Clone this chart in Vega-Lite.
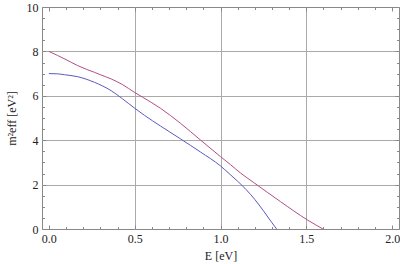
{
  "$schema": "https://vega.github.io/schema/vega-lite/v6.json",
  "width": 357,
  "height": 222,
  "autosize": {"type": "none"},
  "padding": {"left": 42, "top": 7, "right": 1, "bottom": 35},
  "background": "white",
  "config": {
    "view": {"stroke": "#888888", "strokeWidth": 1},
    "axis": {
      "labelFont": "Liberation Serif",
      "titleFont": "Liberation Serif",
      "labelFontSize": 12,
      "titleFontSize": 12,
      "titleFontWeight": "normal",
      "labelColor": "#222222",
      "titleColor": "#222222",
      "domain": false,
      "tickColor": "#888888",
      "gridColor": "#aaaaaa",
      "gridWidth": 1
    }
  },
  "data": {
    "values": [
      {"E": 0.0, "m2": 8.0, "s": "A"},
      {"E": 0.05, "m2": 7.82, "s": "A"},
      {"E": 0.1, "m2": 7.63, "s": "A"},
      {"E": 0.168, "m2": 7.36, "s": "A"},
      {"E": 0.22, "m2": 7.19, "s": "A"},
      {"E": 0.265, "m2": 7.06, "s": "A"},
      {"E": 0.3, "m2": 6.95, "s": "A"},
      {"E": 0.363, "m2": 6.76, "s": "A"},
      {"E": 0.43, "m2": 6.5, "s": "A"},
      {"E": 0.5, "m2": 6.15, "s": "A"},
      {"E": 0.55, "m2": 5.92, "s": "A"},
      {"E": 0.65, "m2": 5.44, "s": "A"},
      {"E": 0.767, "m2": 4.76, "s": "A"},
      {"E": 0.883, "m2": 4.01, "s": "A"},
      {"E": 1.0, "m2": 3.26, "s": "A"},
      {"E": 1.058, "m2": 2.9, "s": "A"},
      {"E": 1.117, "m2": 2.52, "s": "A"},
      {"E": 1.194, "m2": 2.09, "s": "A"},
      {"E": 1.35, "m2": 1.23, "s": "A"},
      {"E": 1.506, "m2": 0.41, "s": "A"},
      {"E": 1.597, "m2": 0.0, "s": "A"},
      {"E": 0.0, "m2": 7.0, "s": "B"},
      {"E": 0.05, "m2": 6.99, "s": "B"},
      {"E": 0.09, "m2": 6.95, "s": "B"},
      {"E": 0.168, "m2": 6.86, "s": "B"},
      {"E": 0.265, "m2": 6.61, "s": "B"},
      {"E": 0.363, "m2": 6.23, "s": "B"},
      {"E": 0.43, "m2": 5.86, "s": "B"},
      {"E": 0.5, "m2": 5.44, "s": "B"},
      {"E": 0.557, "m2": 5.12, "s": "B"},
      {"E": 0.65, "m2": 4.64, "s": "B"},
      {"E": 0.767, "m2": 4.06, "s": "B"},
      {"E": 0.883, "m2": 3.47, "s": "B"},
      {"E": 1.0, "m2": 2.84, "s": "B"},
      {"E": 1.05, "m2": 2.5, "s": "B"},
      {"E": 1.1, "m2": 2.15, "s": "B"},
      {"E": 1.15, "m2": 1.77, "s": "B"},
      {"E": 1.2, "m2": 1.33, "s": "B"},
      {"E": 1.25, "m2": 0.82, "s": "B"},
      {"E": 1.3, "m2": 0.28, "s": "B"},
      {"E": 1.327, "m2": 0.0, "s": "B"}
    ]
  },
  "layer": [
    {
      "mark": {"type": "line", "strokeWidth": 1, "interpolate": "monotone", "clip": true},
      "encoding": {
        "x": {
          "field": "E", "type": "quantitative",
          "scale": {"domain": [-0.04, 2.04], "nice": false, "zero": false},
          "axis": {
            "orient": "bottom",
            "title": "E [eV]",
            "values": [0,0.1,0.2,0.3,0.4,0.5,0.6,0.7,0.8,0.9,1.0,1.1,1.2,1.3,1.4,1.5,1.6,1.7,1.8,1.9,2.0],
            "labelExpr": "abs(round(datum.value*10)%5)==0 ? format(datum.value,'.1f') : ''",
            "tickSize": {"condition": {"test": "abs(round(datum.value*10)%5)==0", "value": -4}, "value": -2.5},
            "gridOpacity": {"condition": {"test": "abs(round(datum.value*10)%5)==0 && datum.value>0.01 && datum.value<1.99", "value": 1}, "value": 0},
            "labelPadding": 8,
            "titlePadding": 5,
            "labelFlush": false,
            "labelOverlap": false
          }
        },
        "y": {
          "field": "m2", "type": "quantitative",
          "scale": {"domain": [0, 10], "nice": false},
          "axis": {
            "orient": "left",
            "title": "m²eff [eV²]",
            "values": [0,0.5,1,1.5,2,2.5,3,3.5,4,4.5,5,5.5,6,6.5,7,7.5,8,8.5,9,9.5,10],
            "labelExpr": "round(datum.value*2)%4==0 ? format(datum.value,'d') : ''",
            "tickSize": {"condition": {"test": "round(datum.value*2)%4==0", "value": -4}, "value": -2.5},
            "gridOpacity": {"condition": {"test": "round(datum.value*2)%4==0 && datum.value>0.1 && datum.value<9.9", "value": 1}, "value": 0},
            "labelPadding": 8,
            "titlePadding": 8,
            "labelFlush": false,
            "labelOverlap": false
          }
        },
        "color": {
          "field": "s", "type": "nominal",
          "scale": {"domain": ["A", "B"], "range": ["#b04f86", "#5a5ac0"]},
          "legend": null
        }
      }
    },
    {
      "mark": {"type": "line", "opacity": 0},
      "encoding": {
        "x": {
          "field": "E", "type": "quantitative",
          "axis": {
            "orient": "top",
            "title": null,
            "labels": false,
            "grid": false,
            "values": [0,0.1,0.2,0.3,0.4,0.5,0.6,0.7,0.8,0.9,1.0,1.1,1.2,1.3,1.4,1.5,1.6,1.7,1.8,1.9,2.0],
            "tickSize": {"condition": {"test": "abs(round(datum.value*10)%5)==0", "value": -4}, "value": -2.5}
          }
        },
        "y": {
          "field": "m2", "type": "quantitative",
          "axis": {
            "orient": "right",
            "title": null,
            "labels": false,
            "grid": false,
            "values": [0,0.5,1,1.5,2,2.5,3,3.5,4,4.5,5,5.5,6,6.5,7,7.5,8,8.5,9,9.5,10],
            "tickSize": {"condition": {"test": "round(datum.value*2)%4==0", "value": -4}, "value": -2.5}
          }
        },
        "detail": {"field": "s", "type": "nominal"}
      }
    }
  ],
  "resolve": {"axis": {"x": "independent", "y": "independent"}}
}
